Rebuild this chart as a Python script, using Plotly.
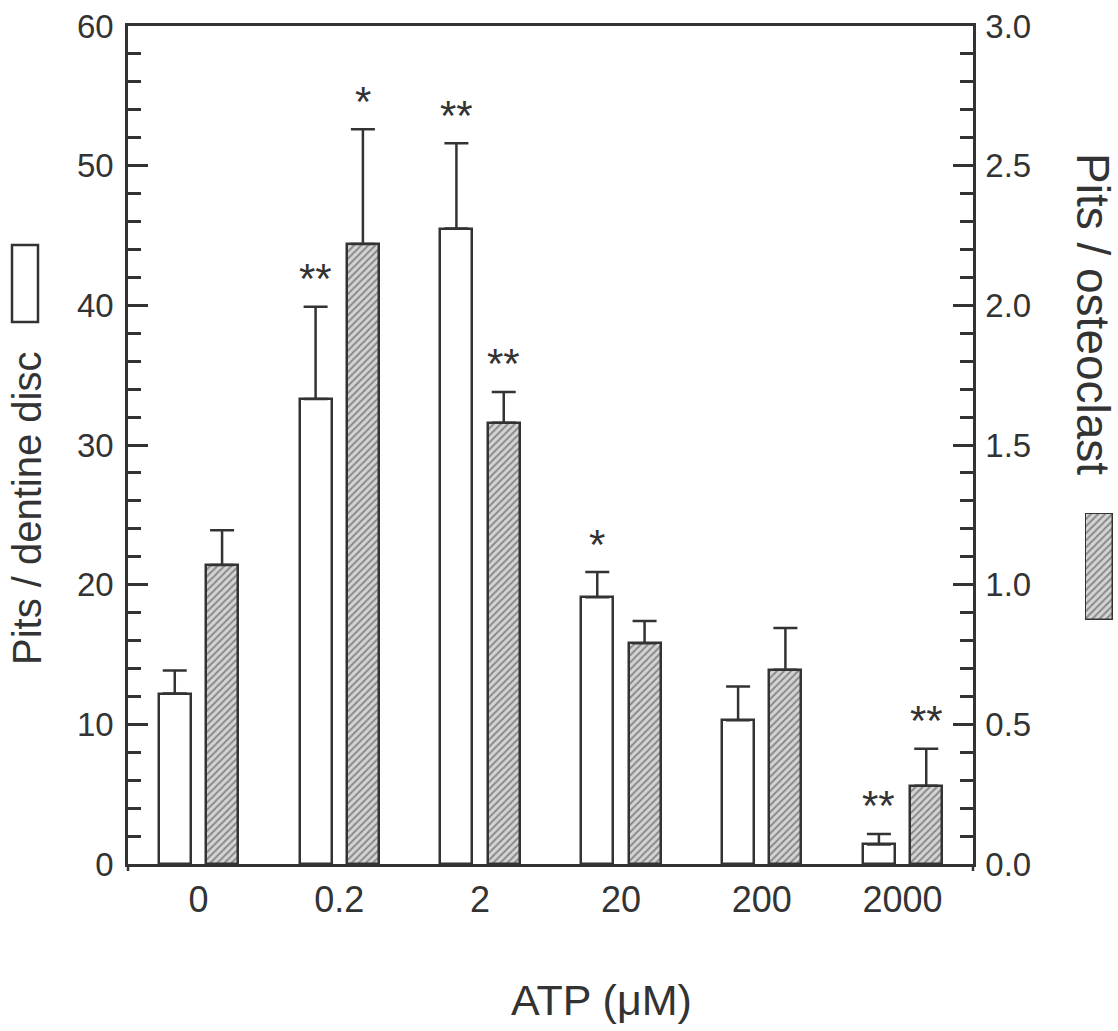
import plotly.graph_objects as go

# ---------------- data ----------------
categories = ["0", "0.2", "2", "20", "200", "2000"]
disc_mean = [12.2, 33.3, 45.5, 19.1, 10.3, 1.4]      # Pits / dentine disc (left axis)
disc_err = [1.65, 6.6, 6.1, 1.8, 2.4, 0.75]
ocl_mean = [1.07, 2.22, 1.58, 0.79, 0.695, 0.28]     # Pits / osteoclast (right axis)
ocl_err = [0.125, 0.41, 0.11, 0.08, 0.15, 0.133]
disc_sig = ["", "**", "**", "*", "", "**"]
ocl_sig = ["", "*", "**", "", "", "**"]

# ---------------- style ----------------
W, H = 1118, 1031
PX_L, PX_R, PX_T, PX_B = 128, 973, 26, 864
INK = "#333333"
FONT = "Liberation Sans, Arial, Helvetica, sans-serif"
BAR_W = 0.228
HALF_GAP = 0.168
HATCH = dict(shape="/", fgcolor="#3c3c3c", bgcolor="#d4d4d4", size=5, solidity=0.4)

def px(x):
    return x / W

def py(y):
    return 1 - y / H

xs = list(range(len(categories)))

fig = go.Figure()

fig.add_trace(go.Bar(
    x=xs, y=disc_mean, width=BAR_W, offset=-HALF_GAP - BAR_W / 2,
    marker=dict(color="white", line=dict(color=INK, width=2.5)),
    error_y=dict(type="data", array=disc_err, arrayminus=[0] * len(disc_err),
                 symmetric=False, color=INK, thickness=2.5, width=12),
    xaxis="x", yaxis="y", showlegend=False,
))
fig.add_trace(go.Bar(
    x=xs, y=ocl_mean, width=BAR_W, offset=HALF_GAP - BAR_W / 2,
    marker=dict(color="#d4d4d4", pattern=HATCH, line=dict(color=INK, width=2.5)),
    error_y=dict(type="data", array=ocl_err, arrayminus=[0] * len(ocl_err),
                 symmetric=False, color=INK, thickness=2.5, width=12),
    xaxis="x", yaxis="y2", showlegend=False,
))

# legend swatch for the hatched series (its own hidden axes)
fig.add_trace(go.Bar(
    x=[0], y=[1], width=[1],
    marker=dict(color="#d4d4d4", pattern=HATCH, line=dict(color=INK, width=2.5)),
    xaxis="x3", yaxis="y3", showlegend=False, hoverinfo="skip",
))

STAR_FONT = dict(size=42, color=INK, family=FONT)
annotations = []
for i, s in enumerate(disc_sig):
    if s:
        annotations.append(dict(x=i - HALF_GAP, y=disc_mean[i] + disc_err[i], xref="x", yref="y",
                                text=s, showarrow=False, yshift=28, yanchor="middle",
                                font=STAR_FONT))
for i, s in enumerate(ocl_sig):
    if s:
        annotations.append(dict(x=i + HALF_GAP, y=ocl_mean[i] + ocl_err[i], xref="x", yref="y2",
                                text=s, showarrow=False, yshift=28, yanchor="middle",
                                font=STAR_FONT))

annotations += [
    dict(x=px(27), y=py(508), xref="paper", yref="paper", text="Pits / dentine disc",
         textangle=-90, showarrow=False, xanchor="center", yanchor="middle",
         font=dict(size=40, color=INK, family=FONT)),
    dict(x=px(1093), y=py(314), xref="paper", yref="paper", text="Pits / osteoclast",
         textangle=90, showarrow=False, xanchor="center", yanchor="middle",
         font=dict(size=46, color=INK, family=FONT)),
    dict(x=px(601), y=py(1000), xref="paper", yref="paper", text="ATP (μM)",
         showarrow=False, xanchor="center", yanchor="middle",
         font=dict(size=43, color=INK, family=FONT)),
]

shapes = [
    # open legend swatch for the left axis title
    dict(type="rect", xref="paper", yref="paper", x0=px(12), x1=px(38), y0=py(322), y1=py(245),
         line=dict(color=INK, width=2.5), fillcolor="white"),
    # small extensions of the vertical axes below the baseline
    dict(type="line", xref="paper", yref="paper", x0=px(PX_L), x1=px(PX_L), y0=py(PX_B), y1=py(PX_B + 7),
         line=dict(color=INK, width=2.5)),
    dict(type="line", xref="paper", yref="paper", x0=px(PX_R), x1=px(PX_R), y0=py(PX_B), y1=py(PX_B + 7),
         line=dict(color=INK, width=2.5)),
]

fig.update_layout(
    width=W, height=H,
    margin=dict(l=0, r=0, t=0, b=0, autoexpand=False),
    paper_bgcolor="white", plot_bgcolor="white",
    font=dict(family=FONT, color=INK),
    bargap=0,
    xaxis=dict(
        domain=[px(PX_L), px(PX_R)], anchor="y", range=[-0.5, 5.5],
        tickmode="array", tickvals=xs, ticktext=categories,
        ticks="", showgrid=False, zeroline=False,
        showline=True, linecolor=INK, linewidth=2.5, mirror=True,
        tickfont=dict(size=36, color=INK, family=FONT), ticklabelstandoff=2,
        automargin=False,
    ),
    yaxis=dict(
        domain=[py(PX_B), py(PX_T)], anchor="x", range=[0, 60],
        tickmode="linear", tick0=0, dtick=10,
        ticks="inside", ticklen=20, tickwidth=2.5, tickcolor=INK,
        minor=dict(dtick=2, ticks="inside", ticklen=13, tickwidth=2.5, tickcolor=INK),
        showgrid=False, zeroline=False,
        showline=True, linecolor=INK, linewidth=2.5,
        tickfont=dict(size=33, color=INK, family=FONT), ticklabelstandoff=5,
        automargin=False,
    ),
    yaxis2=dict(
        overlaying="y", side="right", anchor="x", range=[0, 3],
        tickmode="linear", tick0=0, dtick=0.5, tickformat=".1f",
        ticks="inside", ticklen=20, tickwidth=2.5, tickcolor=INK,
        minor=dict(dtick=0.1, ticks="inside", ticklen=13, tickwidth=2.5, tickcolor=INK),
        showgrid=False, zeroline=False,
        showline=True, linecolor=INK, linewidth=2.5,
        tickfont=dict(size=33, color=INK, family=FONT), ticklabelstandoff=3,
        automargin=False,
    ),
    xaxis3=dict(domain=[px(1085), px(1113)], anchor="y3", range=[-0.5, 0.5], visible=False),
    yaxis3=dict(domain=[py(620), py(513)], anchor="x3", range=[0, 1], visible=False),
    annotations=annotations,
    shapes=shapes,
)

fig.write_html("out.html")
